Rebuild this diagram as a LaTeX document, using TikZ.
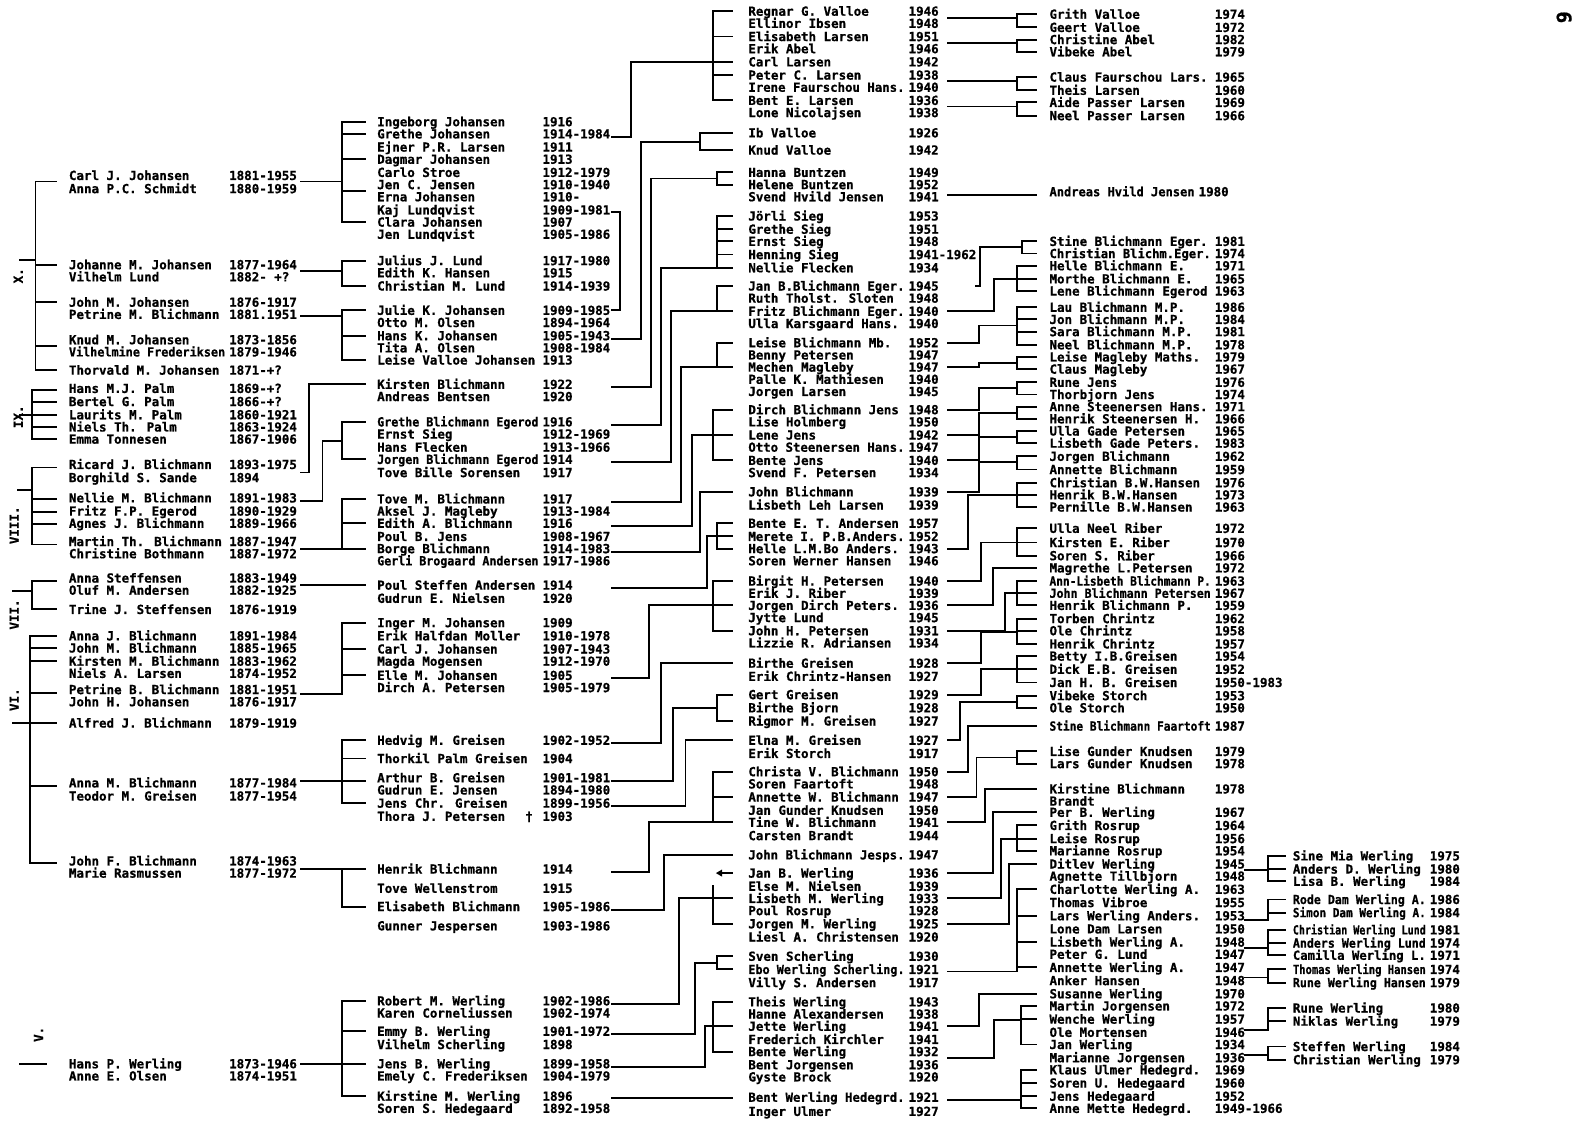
\documentclass[tikz,border=0pt]{standalone}
\usepackage{fontspec}
\usepackage{graphicx}
\newfontfamily\chartfont{DejaVu Sans Mono}[FakeBold=0.8]
\newsavebox\fitbox
\newdimen\fitw
\newcommand\fitto[2]{\fitw=#1\relax\sbox\fitbox{#2}\ifdim\wd\fitbox>\fitw\resizebox{\fitw}{\ht\fitbox}{\usebox\fitbox}\else\usebox\fitbox\fi}
\tikzset{
 txt/.style={anchor=west, inner sep=0pt, outer sep=0pt, font=\chartfont\bfseries\fontsize{12.5}{12.5}\selectfont, text height=9.1pt, text depth=0pt},
 gen/.style={txt, anchor=center, rotate=90},
 ln/.style={line width=1.9pt, line cap=rect, black},
}
\newcommand\rw[6]{%
 \node[txt] (n#1) at (#2,#4) {\fitto{\dimexpr(#3pt-#2pt)*1014/1000-4pt\relax}{#5}};
 \node[txt] (y#1) at (#3,#4) {#6};}
\newcommand\colA[4]{\rw{#1}{68}{226}{#2}{#3}{#4}}
\newcommand\colB[4]{\rw{#1}{372}{535}{#2}{#3}{#4}}
\newcommand\colC[4]{\rw{#1}{738}{896}{#2}{#3}{#4}}
\newcommand\colD[4]{\rw{#1}{1035}{1198}{#2}{#3}{#4}}
\newcommand\colE[4]{\rw{#1}{1275}{1410}{#2}{#3}{#4}}
\newcommand\br[3]{%
 \foreach \yy [count=\ii] in {#3}{\draw[ln] (#1,\yy) -- (#2,\yy); \ifnum\ii=1 \xdef\yfirst{\yy}\fi \xdef\ylast{\yy}}%
 \draw[ln] (#1,\yfirst) -- (#1,\ylast);}
\newcommand\pth[5]{\draw[ln] (#1,#2) -- (#3,#2) -- (#3,#4) -- (#5,#4);}
\begin{document}
\begin{tikzpicture}[x=1.014pt,y=-1.014pt]
\useasboundingbox (0,0) rectangle (1568,1105.5);
\fill[white] (0,0) rectangle (1568,1105.5);
% ---------- column 1
\colA{a1}{173}{Carl J. Johansen}{1881-1955}
\colA{a2}{186}{Anna P.C. Schmidt}{1880-1959}
\colA{a3}{261}{Johanne M. Johansen}{1877-1964}
\colA{a4}{273}{Vilhelm Lund}{1882- +?}
\colA{a5}{298}{John M. Johansen}{1876-1917}
\colA{a6}{310}{Petrine M. Blichmann}{1881.1951}
\colA{a7}{335}{Knud M. Johansen}{1873-1856}
\colA{a8}{347}{Vilhelmine Frederiksen}{1879-1946}
\colA{a9}{365}{Thorvald M. Johansen}{1871-+?}
\colA{a10}{383}{Hans M.J. Palm}{1869-+?}
\colA{a11}{396}{Bertel G. Palm}{1866-+?}
\colA{a12}{409}{Laurits M. Palm}{1860-1921}
\colA{a13}{421}{Niels Th. Palm}{1863-1924}
\colA{a14}{433}{Emma Tonnesen}{1867-1906}
\colA{a15}{458}{Ricard J. Blichmann}{1893-1975}
\colA{a16}{471}{Borghild S. Sande}{1894}
\colA{a17}{491}{Nellie M. Blichmann}{1891-1983}
\colA{a18}{504}{Fritz F.P. Egerod}{1890-1929}
\colA{a19}{516}{Agnes J. Blichmann}{1889-1966}
\colA{a20}{534}{Martin Th. Blichmann}{1887-1947}
\colA{a21}{546}{Christine Bothmann}{1887-1972}
\colA{a22}{570}{Anna Steffensen}{1883-1949}
\colA{a23}{582}{Oluf M. Andersen}{1882-1925}
\colA{a24}{601}{Trine J. Steffensen}{1876-1919}
\colA{a25}{627}{Anna J. Blichmann}{1891-1984}
\colA{a26}{639}{John M. Blichmann}{1885-1965}
\colA{a27}{652}{Kirsten M. Blichmann}{1883-1962}
\colA{a28}{664}{Niels A. Larsen}{1874-1952}
\colA{a29}{680}{Petrine B. Blichmann}{1881-1951}
\colA{a30}{692}{John H. Johansen}{1876-1917}
\colA{a31}{713}{Alfred J. Blichmann}{1879-1919}
\colA{a32}{772}{Anna M. Blichmann}{1877-1984}
\colA{a33}{785}{Teodor M. Greisen}{1877-1954}
\colA{a34}{849}{John F. Blichmann}{1874-1963}
\colA{a35}{861}{Marie Rasmussen}{1877-1972}
\colA{a36}{1049}{Hans P. Werling}{1873-1946}
\colA{a37}{1061}{Anne E. Olsen}{1874-1951}
% ---------- column 2
\colB{b1}{120}{Ingeborg Johansen}{1916}
\colB{b2}{132}{Grethe Johansen}{1914-1984}
\colB{b3}{145}{Ejner P.R. Larsen}{1911}
\colB{b4}{157}{Dagmar Johansen}{1913}
\colB{b5}{170}{Carlo Stroe}{1912-1979}
\colB{b6}{182}{Jen C. Jensen}{1910-1940}
\colB{b7}{194}{Erna Johansen}{1910-}
\colB{b8}{207}{Kaj Lundqvist}{1909-1981}
\colB{b9}{219}{Clara Johansen}{1907}
\colB{b10}{231}{Jen Lundqvist}{1905-1986}
\colB{b11}{257}{Julius J. Lund}{1917-1980}
\colB{b12}{269}{Edith K. Hansen}{1915}
\colB{b13}{282}{Christian M. Lund}{1914-1939}
\colB{b14}{306}{Julie K. Johansen}{1909-1985}
\colB{b15}{318}{Otto M. Olsen}{1894-1964}
\colB{b16}{331}{Hans K. Johansen}{1905-1943}
\colB{b17}{343}{Tita A. Olsen}{1908-1984}
\colB{b18}{355}{Leise Valloe Johansen}{1913}
\colB{b19}{379}{Kirsten Blichmann}{1922}
\colB{b20}{391}{Andreas Bentsen}{1920}
\colB{b21}{416}{Grethe Blichmann Egerod}{1916}
\colB{b22}{428}{Ernst Sieg}{1912-1969}
\colB{b23}{441}{Hans Flecken}{1913-1966}
\colB{b24}{453}{Jorgen Blichmann Egerod}{1914}
\colB{b25}{466}{Tove Bille Sorensen}{1917}
\colB{b26}{492}{Tove M. Blichmann}{1917}
\colB{b27}{504}{Aksel J. Magleby}{1913-1984}
\colB{b28}{516}{Edith A. Blichmann}{1916}
\colB{b29}{529}{Poul B. Jens}{1908-1967}
\colB{b30}{541}{Borge Blichmann}{1914-1983}
\colB{b31}{553}{Gerli Brogaard Andersen}{1917-1986}
\colB{b32}{577}{Poul Steffen Andersen}{1914}
\colB{b33}{590}{Gudrun E. Nielsen}{1920}
\colB{b34}{614}{Inger M. Johansen}{1909}
\colB{b35}{627}{Erik Halfdan Moller}{1910-1978}
\colB{b36}{640}{Carl J. Johansen}{1907-1943}
\colB{b37}{652}{Magda Mogensen}{1912-1970}
\colB{b38}{666}{Elle M. Johansen}{1905}
\colB{b39}{678}{Dirch A. Petersen}{1905-1979}
\colB{b40}{730}{Hedvig M. Greisen}{1902-1952}
\colB{b41}{748}{Thorkil Palm Greisen}{1904}
\colB{b42}{767}{Arthur B. Greisen}{1901-1981}
\colB{b43}{779}{Gudrun E. Jensen}{1894-1980}
\colB{b44}{792}{Jens Chr. Greisen}{1899-1956}
\colB{b45}{805}{Thora J. Petersen}{1903}
\node[txt] (dag) at (518,805) {†};
\colB{b46}{857}{Henrik Blichmann}{1914}
\colB{b47}{876}{Tove Wellenstrom}{1915}
\colB{b48}{894}{Elisabeth Blichmann}{1905-1986}
\colB{b49}{913}{Gunner Jespersen}{1903-1986}
\colB{b50}{987}{Robert M. Werling}{1902-1986}
\colB{b51}{999}{Karen Corneliussen}{1902-1974}
\colB{b52}{1017}{Emmy B. Werling}{1901-1972}
\colB{b53}{1030}{Vilhelm Scherling}{1898}
\colB{b54}{1049}{Jens B. Werling}{1899-1958}
\colB{b55}{1061}{Emely C. Frederiksen}{1904-1979}
\colB{b56}{1081}{Kirstine M. Werling}{1896}
\colB{b57}{1093}{Soren S. Hedegaard}{1892-1958}
% ---------- column 3
\colC{c1}{11}{Regnar G. Valloe}{1946}
\colC{c2}{23}{Ellinor Ibsen}{1948}
\colC{c3}{36}{Elisabeth Larsen}{1951}
\colC{c4}{48}{Erik Abel}{1946}
\colC{c5}{61}{Carl Larsen}{1942}
\colC{c6}{74}{Peter C. Larsen}{1938}
\colC{c7}{86}{Irene Faurschou Hans.}{1940}
\colC{c8}{99}{Bent E. Larsen}{1936}
\colC{c9}{111}{Lone Nicolajsen}{1938}
\colC{c10}{131}{Ib Valloe}{1926}
\colC{c11}{148}{Knud Valloe}{1942}
\colC{c12}{170}{Hanna Buntzen}{1949}
\colC{c13}{182}{Helene Buntzen}{1952}
\colC{c14}{194}{Svend Hvild Jensen}{1941}
\colC{c15}{213}{Jörli Sieg}{1953}
\colC{c16}{226}{Grethe Sieg}{1951}
\colC{c17}{238}{Ernst Sieg}{1948}
\colC{c18}{251}{Henning Sieg}{1941-1962}
\colC{c19}{264}{Nellie Flecken}{1934}
\colC{c20}{282}{Jan B.Blichmann Eger.}{1945}
\colC{c21}{294}{Ruth Tholst. Sloten}{1948}
\colC{c22}{307}{Fritz Blichmann Eger.}{1940}
\colC{c23}{319}{Ulla Karsgaard Hans.}{1940}
\colC{c24}{338}{Leise Blichmann Mb.}{1952}
\colC{c25}{350}{Benny Petersen}{1947}
\colC{c26}{362}{Mechen Magleby}{1947}
\colC{c27}{374}{Palle K. Mathiesen}{1940}
\colC{c28}{386}{Jorgen Larsen}{1945}
\colC{c29}{404}{Dirch Blichmann Jens}{1948}
\colC{c30}{416}{Lise Holmberg}{1950}
\colC{c31}{429}{Lene Jens}{1942}
\colC{c32}{441}{Otto Steenersen Hans.}{1947}
\colC{c33}{454}{Bente Jens}{1940}
\colC{c34}{466}{Svend F. Petersen}{1934}
\colC{c35}{485}{John Blichmann}{1939}
\colC{c36}{498}{Lisbeth Leh Larsen}{1939}
\colC{c37}{516}{Bente E. T. Andersen}{1957}
\colC{c38}{529}{Merete I. P.B.Anders.}{1952}
\colC{c39}{541}{Helle L.M.Bo Anders.}{1943}
\colC{c40}{553}{Soren Werner Hansen}{1946}
\colC{c41}{573}{Birgit H. Petersen}{1940}
\colC{c42}{585}{Erik J. Riber}{1939}
\colC{c43}{597}{Jorgen Dirch Peters.}{1936}
\colC{c44}{609}{Jytte Lund}{1945}
\colC{c45}{622}{John H. Petersen}{1931}
\colC{c46}{634}{Lizzie R. Adriansen}{1934}
\colC{c47}{654}{Birthe Greisen}{1928}
\colC{c48}{667}{Erik Chrintz-Hansen}{1927}
\colC{c49}{685}{Gert Greisen}{1929}
\colC{c50}{698}{Birthe Bjorn}{1928}
\colC{c51}{711}{Rigmor M. Greisen}{1927}
\colC{c52}{730}{Elna M. Greisen}{1927}
\colC{c53}{743}{Erik Storch}{1917}
\colC{c54}{761}{Christa V. Blichmann}{1950}
\colC{c55}{773}{Soren Faartoft}{1948}
\colC{c56}{786}{Annette W. Blichmann}{1947}
\colC{c57}{799}{Jan Gunder Knudsen}{1950}
\colC{c58}{811}{Tine W. Blichmann}{1941}
\colC{c59}{824}{Carsten Brandt}{1944}
\colC{c60}{843}{John Blichmann Jesps.}{1947}
\colC{c61}{861}{Jan B. Werling}{1936}
\colC{c62}{874}{Else M. Nielsen}{1939}
\colC{c63}{886}{Lisbeth M. Werling}{1933}
\colC{c64}{898}{Poul Rosrup}{1928}
\colC{c65}{911}{Jorgen M. Werling}{1925}
\colC{c66}{924}{Liesl A. Christensen}{1920}
\colC{c67}{943}{Sven Scherling}{1930}
\colC{c68}{956}{Ebo Werling Scherling.}{1921}
\colC{c69}{969}{Villy S. Andersen}{1917}
\colC{c70}{988}{Theis Werling}{1943}
\colC{c71}{1000}{Hanne Alexandersen}{1938}
\colC{c72}{1012}{Jette Werling}{1941}
\colC{c73}{1025}{Frederich Kirchler}{1941}
\colC{c74}{1037}{Bente Werling}{1932}
\colC{c75}{1050}{Bent Jorgensen}{1936}
\colC{c76}{1062}{Gyste Brock}{1920}
\colC{c77}{1082}{Bent Werling Hedegrd.}{1921}
\colC{c78}{1096}{Inger Ulmer}{1927}
% ---------- column 4
\colD{d1}{14}{Grith Valloe}{1974}
\colD{d2}{27}{Geert Valloe}{1972}
\colD{d3}{39}{Christine Abel}{1982}
\colD{d4}{51}{Vibeke Abel}{1979}
\colD{d5}{76}{Claus Faurschou Lars.}{1965}
\colD{d6}{89}{Theis Larsen}{1960}
\colD{d7}{101}{Aide Passer Larsen}{1969}
\colD{d8}{114}{Neel Passer Larsen}{1966}
\rw{d9}{1035}{1182}{189}{Andreas Hvild Jensen}{1980}
\colD{d10}{238}{Stine Blichmann Eger.}{1981}
\colD{d11}{250}{Christian Blichm.Eger.}{1974}
\colD{d12}{262}{Helle Blichmann E.}{1971}
\colD{d13}{275}{Morthe Blichmann E.}{1965}
\colD{d14}{287}{Lene Blichmann Egerod}{1963}
\colD{d15}{303}{Lau Blichmann M.P.}{1986}
\colD{d16}{315}{Jon Blichmann M.P.}{1984}
\colD{d17}{327}{Sara Blichmann M.P.}{1981}
\colD{d18}{340}{Neel Blichmann M.P.}{1978}
\colD{d19}{352}{Leise Magleby Maths.}{1979}
\colD{d20}{364}{Claus Magleby}{1967}
\colD{d21}{377}{Rune Jens}{1976}
\colD{d22}{389}{Thorbjorn Jens}{1974}
\colD{d23}{401}{Anne Steenersen Hans.}{1971}
\colD{d24}{413}{Henrik Steenersen H.}{1966}
\colD{d25}{425}{Ulla Gade Petersen}{1965}
\colD{d26}{437}{Lisbeth Gade Peters.}{1983}
\colD{d27}{450}{Jorgen Blichmann}{1962}
\colD{d28}{463}{Annette Blichmann}{1959}
\colD{d29}{476}{Christian B.W.Hansen}{1976}
\colD{d30}{488}{Henrik B.W.Hansen}{1973}
\colD{d31}{500}{Pernille B.W.Hansen}{1963}
\colD{d32}{521}{Ulla Neel Riber}{1972}
\colD{d33}{535}{Kirsten E. Riber}{1970}
\colD{d34}{548}{Soren S. Riber}{1966}
\colD{d35}{560}{Magrethe L.Petersen}{1972}
\colD{d36}{573}{Ann-Lisbeth Blichmann P.}{1963}
\colD{d37}{585}{John Blichmann Petersen}{1967}
\colD{d38}{597}{Henrik Blichmann P.}{1959}
\colD{d39}{610}{Torben Chrintz}{1962}
\colD{d40}{622}{Ole Chrintz}{1958}
\colD{d41}{635}{Henrik Chrintz}{1957}
\colD{d42}{647}{Betty I.B.Greisen}{1954}
\colD{d43}{660}{Dick E.B. Greisen}{1952}
\colD{d44}{673}{Jan H. B. Greisen}{1950-1983}
\colD{d45}{686}{Vibeke Storch}{1953}
\colD{d46}{698}{Ole Storch}{1950}
\colD{d47}{716}{Stine Blichmann Faartoft}{1987}
\colD{d48}{741}{Lise Gunder Knudsen}{1979}
\colD{d49}{753}{Lars Gunder Knudsen}{1978}
\colD{d50}{778}{Kirstine Blichmann}{1978}
\colD{d51}{790}{Brandt}{}
\colD{d52}{801}{Per B. Werling}{1967}
\colD{d53}{814}{Grith Rosrup}{1964}
\colD{d54}{827}{Leise Rosrup}{1956}
\colD{d55}{839}{Marianne Rosrup}{1954}
\colD{d56}{852}{Ditlev Werling}{1945}
\colD{d57}{864}{Agnette Tillbjorn}{1948}
\colD{d58}{877}{Charlotte Werling A.}{1963}
\colD{d59}{890}{Thomas Vibroe}{1955}
\colD{d60}{903}{Lars Werling Anders.}{1953}
\colD{d61}{916}{Lone Dam Larsen}{1950}
\colD{d62}{929}{Lisbeth Werling A.}{1948}
\colD{d63}{941}{Peter G. Lund}{1947}
\colD{d64}{954}{Annette Werling A.}{1947}
\colD{d65}{967}{Anker Hansen}{1948}
\colD{d66}{980}{Susanne Werling}{1970}
\colD{d67}{992}{Martin Jorgensen}{1972}
\colD{d68}{1005}{Wenche Werling}{1957}
\colD{d69}{1018}{Ole Mortensen}{1946}
\colD{d70}{1030}{Jan Werling}{1934}
\colD{d71}{1043}{Marianne Jorgensen}{1936}
\colD{d72}{1055}{Klaus Ulmer Hedegrd.}{1969}
\colD{d73}{1068}{Soren U. Hedegaard}{1960}
\colD{d74}{1081}{Jens Hedegaard}{1952}
\colD{d75}{1093}{Anne Mette Hedegrd.}{1949-1966}
% ---------- column 5
\colE{e1}{844}{Sine Mia Werling}{1975}
\colE{e2}{857}{Anders D. Werling}{1980}
\colE{e3}{869}{Lisa B. Werling}{1984}
\colE{e4}{887}{Rode Dam Werling A.}{1986}
\colE{e5}{900}{Simon Dam Werling A.}{1984}
\colE{e6}{917}{Christian Werling Lund}{1981}
\colE{e7}{930}{Anders Werling Lund}{1974}
\colE{e8}{942}{Camilla Werling L.}{1971}
\colE{e9}{956}{Thomas Werling Hansen}{1974}
\colE{e10}{969}{Rune Werling Hansen}{1979}
\colE{e11}{994}{Rune Werling}{1980}
\colE{e12}{1007}{Niklas Werling}{1979}
\colE{e13}{1032}{Steffen Werling}{1984}
\colE{e14}{1045}{Christian Werling}{1979}
% ---------- generation labels, page number
\node[gen] (g10) at (18,272) {X.};
\node[gen] (g9) at (18,411) {IX.};
\node[gen] (g8) at (14,518) {VIII.};
\node[gen] (g7) at (14,606) {VII.};
\node[gen] (g6) at (14,690) {VI.};
\node[gen] (g5) at (38,1020) {V.};
\node[gen, font=\chartfont\bfseries\fontsize{20}{20}\selectfont] (pg) at (1545,17) {9};
% ---------- column 1 brackets
\draw[ln] (35,179) -- (35,365);
\foreach \yy in {179,261,298,341,365} \draw[ln] (35,\yy) -- (55,\yy);
\draw[ln] (20,256) -- (35,256);
\br{32}{55}{385,396,409,421,433} \draw[ln] (20,409) -- (32,409);
\br{32}{55}{461,492,505,517,537} \draw[ln] (18,483) -- (32,483);
\br{32}{55}{573,601} \draw[ln] (13,583) -- (32,583);
\br{30}{55}{627,639,652,683,713,775,851} \draw[ln] (13,713) -- (30,713);
\draw[ln] (20,1049) -- (45,1049);
% ---------- column 1 -> column 2
\draw[ln] (297,179) -- (337,179);
\draw[ln] (297,267) -- (337,267);
\draw[ln] (297,312) -- (337,312);
\pth{297}{466}{305}{379}{360}
\pth{297}{494}{318}{435}{337}
\draw[ln] (297,541) -- (337,541);
\draw[ln] (297,577) -- (360,577);
\draw[ln] (297,684) -- (337,684) -- (337,666);
\draw[ln] (297,770) -- (337,770);
\draw[ln] (297,857) -- (337,857);
\draw[ln] (297,1049) -- (337,1049);
% ---------- column 2 brackets
\br{337}{360}{120,132,157,188,219}
\br{337}{360}{257,282}
\br{337}{360}{306,331,355}
\br{337}{360}{416,453}
\br{337}{360}{492,516,541}
\br{337}{360}{614,640,666}
\br{337}{360}{730,748,770,792}
\br{337}{360}{857,894}
\br{337}{360}{987,1017,1049,1081}
\draw[ln] (603,209) -- (611,209) -- (611,306) -- (603,306);
% ---------- column 2 -> column 3
\pth{603}{135}{622}{61}{703} \br{703}{722}{11,36,61,74,99}
\pth{603}{334}{632}{140}{690} \br{690}{722}{131,148}
\pth{603}{382}{642}{176}{707} \br{707}{722}{170,182}
\pth{603}{419}{652}{264}{707} \br{707}{722}{213,226,238,251,264}
\pth{603}{456}{662}{307}{707} \br{707}{722}{282,307}
\pth{603}{495}{672}{362}{707} \br{707}{722}{338,362}
\pth{603}{519}{682}{429}{703} \br{703}{722}{404,429,454}
\pth{603}{544}{690}{485}{722}
\pth{603}{580}{697}{529}{707} \br{707}{722}{516,529,541}
\pth{603}{669}{640}{597}{703} \br{703}{722}{573,597,622}
\pth{603}{733}{652}{654}{722}
\pth{603}{770}{664}{698}{707} \br{707}{722}{685,711}
\pth{603}{795}{676}{730}{722}
\pth{603}{860}{640}{811}{703} \br{703}{722}{761,786,811}
\pth{603}{897}{655}{843}{722}
\pth{603}{990}{670}{886}{703} \br{703}{722}{886,911}
\draw[ln] (703,874) -- (703,886);
\fill (706,861) -- (712,857.5) -- (712,864.5) -- cycle;
\draw[ln] (711,861) -- (722,861);
\pth{603}{1020}{685}{950}{707} \br{707}{722}{943,956}
\pth{603}{1052}{695}{1012}{703} \br{703}{722}{988,1012,1037}
\draw[ln] (603,1083) -- (722,1083);
% ---------- column 3 -> column 4
\draw[ln] (935,18) -- (1003,18); \br{1003}{1022}{14,27}
\draw[ln] (935,42) -- (1003,42); \br{1003}{1022}{39,51}
\draw[ln] (935,80) -- (1003,80); \br{1003}{1022}{76,89}
\draw[ln] (935,105) -- (1003,105); \br{1003}{1022}{101,114}
\draw[ln] (935,192) -- (1022,192);
\pth{962}{282}{966}{244}{1008} \br{1008}{1022}{238,250}
\pth{935}{307}{980}{275}{1003} \br{1003}{1022}{262,275,287}
\pth{935}{338}{965}{321}{1003} \br{1003}{1022}{303,315,327,340}
\pth{935}{362}{965}{358}{1003} \br{1003}{1022}{352,364}
\pth{935}{404}{965}{383}{1003} \br{1003}{1022}{377,389}
\pth{935}{429}{965}{407}{1003} \br{1003}{1022}{401,413}
\pth{935}{454}{965}{431}{1003} \br{1003}{1022}{425,437}
\pth{935}{485}{965}{456}{1003} \br{1003}{1022}{450,463}
\pth{935}{541}{955}{488}{1003} \br{1003}{1022}{476,488,500}
\pth{935}{573}{967}{535}{1003} \br{1003}{1022}{521,535,548}
\pth{935}{597}{979}{560}{1022}
\pth{935}{622}{991}{585}{1003} \br{1003}{1022}{573,585,597}
\pth{935}{654}{967}{623}{1003} \br{1003}{1022}{610,622,635}
\pth{935}{685}{967}{660}{1003} \br{1003}{1022}{647,660,673}
\pth{935}{730}{947}{692}{1003} \br{1003}{1022}{686,698}
\pth{935}{761}{955}{716}{1022}
\pth{935}{786}{963}{747}{1003} \br{1003}{1022}{741,753}
\pth{935}{811}{971}{778}{1022}
\pth{935}{861}{979}{801}{1022}
\pth{935}{886}{987}{827}{1003} \br{1003}{1022}{814,827,839}
\pth{935}{911}{995}{852}{1022}
\draw[ln] (935,958) -- (1003,958) -- (1003,954); \br{1003}{1022}{877,903,929,954}
\pth{935}{1012}{965}{980}{1022}
\pth{935}{1043}{980}{1006}{1007} \br{1007}{1022}{992,1005,1030}
\draw[ln] (935,1085) -- (1007,1085); \br{1007}{1022}{1055,1068,1081,1093}
% ---------- column 4 -> column 5
\draw[ln] (1228,858) -- (1250,858); \br{1250}{1267}{844,857,869}
\draw[ln] (1228,907) -- (1250,907) -- (1250,900); \br{1250}{1267}{887,900}
\draw[ln] (1228,935) -- (1250,935); \br{1250}{1267}{917,930,942}
\draw[ln] (1228,964) -- (1250,964); \br{1250}{1267}{956,969}
\draw[ln] (1228,1016) -- (1250,1016) -- (1250,1007); \br{1250}{1267}{994,1007}
\draw[ln] (1228,1040) -- (1250,1040); \br{1250}{1267}{1032,1045}
\end{tikzpicture}
\end{document}
